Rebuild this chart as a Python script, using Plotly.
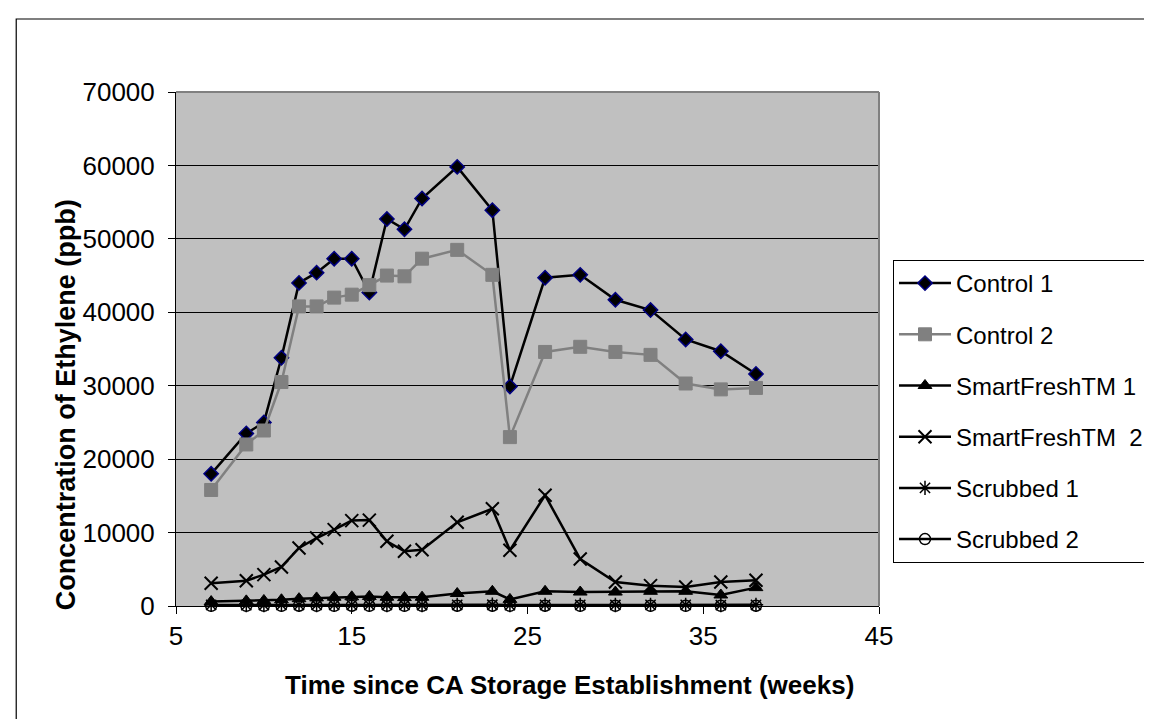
import plotly.graph_objects as go

weeks = [7, 9, 10, 11, 12, 13, 14, 15, 16, 17, 18, 19, 21, 23, 24, 26, 28, 30, 32, 34, 36, 38]
control1 = [18000, 23500, 25000, 33800, 44000, 45400, 47300, 47300, 42700, 52700, 51300, 55500,
            59800, 53900, 29900, 44700, 45100, 41700, 40300, 36300, 34700, 31600]
control2 = [15800, 22000, 23900, 30500, 40800, 40800, 42000, 42400, 43700, 45000, 44900, 47300,
            48500, 45100, 23000, 34600, 35300, 34600, 34200, 30300, 29500, 29700]
smartfresh1 = [600, 700, 750, 850, 1000, 1100, 1200, 1250, 1300, 1200, 1150, 1200,
               1700, 2000, 900, 2000, 1900, 1900, 2000, 2000, 1500, 2500]
smartfresh2 = [3100, 3450, 4270, 5320, 7900, 9260, 10400, 11630, 11700, 8810, 7450, 7670,
               11400, 13250, 7590, 15080, 6400, 3270, 2770, 2590, 3270, 3500]
scrubbed1 = [150, 120, 130, 150, 160, 140, 150, 160, 150, 140, 150, 130,
             160, 170, 120, 160, 150, 140, 150, 150, 130, 160]
scrubbed2 = [30, 20, 30, 30, 40, 30, 30, 40, 30, 30, 30, 30,
             40, 40, 20, 40, 30, 30, 30, 30, 30, 40]

names = ["Control 1", "Control 2", "SmartFreshTM 1", "SmartFreshTM\u00a0 2", "Scrubbed 1", "Scrubbed 2"]
x_ticks = [5, 15, 25, 35, 45]
y_ticks = [0, 10000, 20000, 30000, 40000, 50000, 60000, 70000]

FONT = "Liberation Sans, Arial, sans-serif"

styles = [
    dict(series=control1, line=dict(color="black", width=2.5),
         marker=dict(symbol="diamond", size=11, color="black", line=dict(color="#000080", width=1.5))),
    dict(series=control2, line=dict(color="#808080", width=2.5),
         marker=dict(symbol="square", size=13, color="#808080", line=dict(color="#808080", width=1))),
    dict(series=smartfresh1, line=dict(color="black", width=2.5),
         marker=dict(symbol="triangle-up", size=12, color="black", line=dict(color="black", width=1))),
    dict(series=smartfresh2, line=dict(color="black", width=2.5),
         marker=dict(symbol="x-thin", size=13, color="black", line=dict(color="black", width=2))),
    dict(series=scrubbed1, line=dict(color="black", width=2.5),
         marker=dict(symbol="asterisk", size=12, color="black", line=dict(color="black", width=1.5))),
    dict(series=scrubbed2, line=dict(color="black", width=2.5),
         marker=dict(symbol="circle-open", size=11, color="black", line=dict(color="black", width=1.5))),
]

fig = go.Figure()
for i, (name, st) in enumerate(zip(names, styles)):
    fig.add_trace(go.Scatter(
        x=weeks, y=st["series"], name=name, mode="lines+markers",
        line=st["line"], marker=st["marker"], legendgroup=f"g{i}",
        cliponaxis=False,
    ))

L, R, T, B = 168, 872, 84, 598
W, H = 1152, 719
pw, ph = R - L, B - T

def px(x):
    return (x - L) / pw

def py(y):
    return (B - y) / ph

fig.update_layout(
    width=W, height=H,
    margin=dict(l=L, r=W - R, t=T, b=H - B, pad=0),
    paper_bgcolor="white",
    plot_bgcolor="#C0C0C0",
    font=dict(family=FONT, color="black", size=26),
    showlegend=True,
    legend=dict(
        x=px(885), y=py(252), xanchor="left", yanchor="top",
        bgcolor="white", bordercolor="black", borderwidth=1,
        font=dict(family=FONT, size=24, color="black"),
        tracegroupgap=17, itemwidth=52, traceorder="grouped",
    ),
    xaxis=dict(
        range=[5, 45], tickvals=x_ticks, ticktext=[str(v) for v in x_ticks],
        showgrid=False, zeroline=False, showline=True, linecolor="black", linewidth=1,
        ticks="outside", ticklen=7, tickcolor="black",
        tickfont=dict(family=FONT, size=26, color="black"),
    ),
    yaxis=dict(
        range=[0, 70000], tickvals=y_ticks, ticktext=[str(v) for v in y_ticks],
        showgrid=True, gridcolor="black", gridwidth=1, zeroline=False,
        showline=True, linecolor="black", linewidth=1,
        ticks="outside", ticklen=7, tickcolor="black", ticklabelstandoff=8,
        tickfont=dict(family=FONT, size=26, color="black"),
    ),
    shapes=[
        dict(type="rect", xref="paper", yref="paper", x0=px(8), x1=px(1400), y0=py(900), y1=py(11),
             line=dict(color="black", width=1.2), fillcolor="rgba(0,0,0,0)", layer="below"),
        dict(type="line", xref="paper", yref="paper", x0=0, x1=1, y0=1, y1=1,
             line=dict(color="#808080", width=2)),
        dict(type="line", xref="paper", yref="paper", x0=1, x1=1, y0=0, y1=1,
             line=dict(color="#808080", width=2)),
    ],
    annotations=[
        dict(text="<b>Time since CA Storage Establishment (weeks)</b>", xref="paper", yref="paper",
             x=px(562), y=py(677), xanchor="center", yanchor="middle", showarrow=False,
             font=dict(family=FONT, size=26, color="black")),
        dict(text="<b>Concentration of Ethylene (ppb)</b>", xref="paper", yref="paper",
             x=px(58), y=py(397), xanchor="center", yanchor="middle", showarrow=False, textangle=-90,
             font=dict(family=FONT, size=27, color="black")),
    ],
)

fig.write_html("out.html")
